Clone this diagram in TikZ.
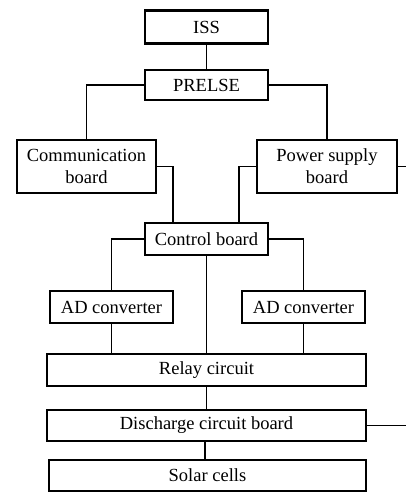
\documentclass[tikz,border=0pt]{standalone}
\usepackage{fontspec}
\setmainfont{Liberation Serif}
\usetikzlibrary{calc}
\begin{document}
\begin{tikzpicture}[x=1pt,y=-1pt,
  blk/.style={draw=black,line width=2.8pt,inner sep=0pt,align=center,
    font=\fontsize{18.5}{22}\selectfont,fill=white},
  wire/.style={draw=black,line width=1.8pt}]
\useasboundingbox (0,0) rectangle (406,493);
\node[blk,minimum width=123pt,minimum height=33pt] (iss) at (206.5,27) {ISS};
\node[blk,minimum width=123pt,minimum height=30pt] (prelse) at (206.5,85) {PRELSE};
\node[blk,minimum width=139pt,minimum height=53pt] (comm) at (86.5,166.5) {Communication\\board};
\node[blk,minimum width=140pt,minimum height=53pt] (power) at (327,166.5) {Power supply\\board};
\node[blk,minimum width=123pt,minimum height=32pt] (ctrl) at (206.5,239) {Control board};
\node[blk,minimum width=123pt,minimum height=32pt] (adl) at (111.5,307) {AD converter};
\node[blk,minimum width=123pt,minimum height=32pt] (adr) at (303.5,307) {AD converter};
\node[blk,minimum width=319pt,minimum height=32pt] (relay) at (206.5,370) {Relay circuit};
\node[blk,minimum width=319pt,minimum height=31pt] (dis) at (206.5,425.5) {Discharge circuit board};
\node[blk,minimum width=317pt,minimum height=31pt] (solar) at (207.5,475.5) {Solar cells};
\coordinate (pout) at (406,166.5);
\coordinate (dout) at (406,425.5);
\begin{scope}[on background layer/.try]
\end{scope}
\draw[wire] (iss.south) -- (prelse.north);
\draw[wire] (prelse.west) -| (comm.north);
\draw[wire] (prelse.east) -| (power.north);
\draw[wire] (comm.east) -| ($(ctrl.north)+(-33.5,0)$);
\draw[wire] (power.west) -| ($(ctrl.north)+(32.5,0)$);
\draw[wire] (ctrl.west) -| (adl.north);
\draw[wire] (ctrl.east) -| (adr.north);
\draw[wire] (ctrl.south) -- (relay.north);
\draw[wire] (adl.south) -- (adl.south |- relay.north);
\draw[wire] (adr.south) -- (adr.south |- relay.north);
\draw[wire] (relay.south) -- (dis.north);
\draw[wire] ($(dis.south)+(-1.5,0)$) -- ($(dis.south |- solar.north)+(-1.5,0)$);
\draw[wire] (power.east) -- (pout);
\draw[wire] (dis.east) -- (dout);
\end{tikzpicture}
\end{document}
